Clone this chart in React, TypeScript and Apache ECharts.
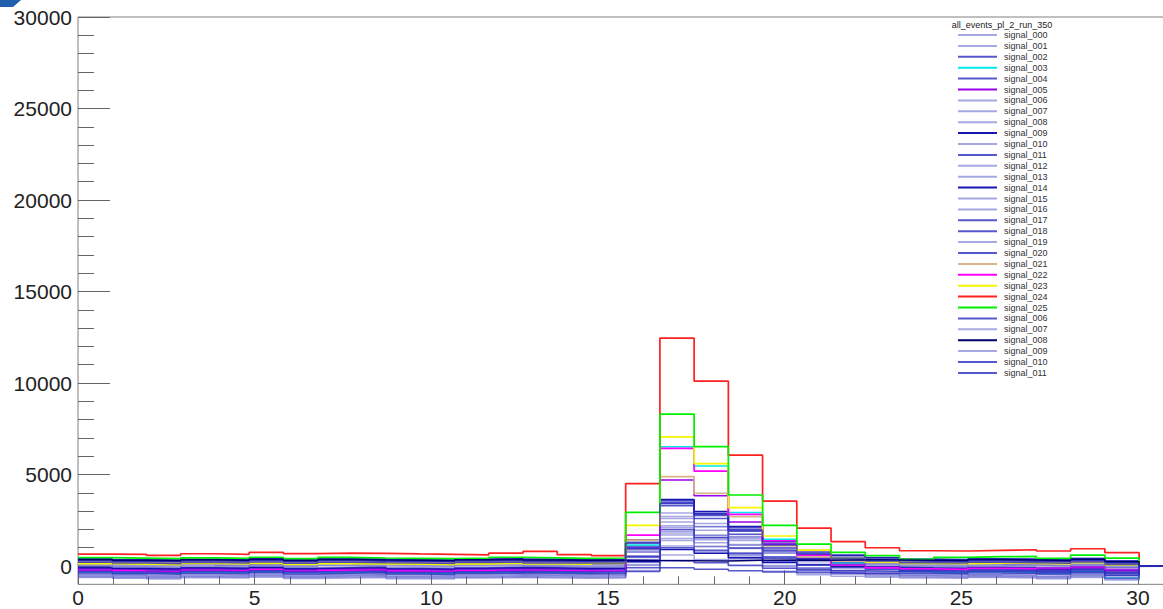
import React, { useEffect, useRef } from "react";
import * as echarts from "echarts";

// ---- histogram binning (32 bins spanning 0..31) ----
const X_MIN = 0;
const X_MAX = 31;
const N_BINS = 32;
const Y_MIN = -1000;
const Y_MAX = 30000;

const legendTitle = "all_events_pl_2_run_350";
const xTickMax = 30;
const yTickMax = 30000;

// ---- series values (one value per bin) ----
const s000 = [-430, -470, -520, -440, -460, -400, -480, -450, -430, -470, -500, -440, -420, -460, -450, -470, 260, 1700, 1270, 720, 190, -130, -300, -380, -460, -430, -480, -440, -470, -420, -520, 0];
const s001 = [120, 80, 60, 130, 90, 110, 70, 140, 100, 80, 60, 120, 150, 90, 110, 90, 770, 2100, 1700, 1180, 710, 390, 230, 160, 110, 80, 130, 90, 60, 120, -20, 0];
const s002 = [-120, -180, -210, -140, -160, -100, -190, -130, -150, -170, -200, -160, -110, -140, -170, -160, 1090, 3600, 2850, 1900, 980, 410, 110, -40, -130, -170, -120, -150, -190, -110, -260, 0];
const s003 = [-330, -380, -400, -340, -360, -300, -370, -350, -320, -390, -410, -360, -330, -350, -380, -320, 1150, 6520, 5460, 2930, 1470, 650, 180, -150, -300, -360, -310, -340, -380, -300, -650, 0];
const s004 = [270, 230, 200, 260, 240, 300, 220, 280, 250, 230, 210, 260, 290, 250, 230, 240, 1300, 3450, 2810, 2010, 1210, 730, 470, 350, 260, 230, 280, 250, 220, 290, 150, 0];
const s005 = [-130, -170, -200, -140, -160, -110, -180, -150, -130, -170, -190, -150, -120, -140, -170, -140, 1000, 4700, 3840, 2400, 1200, 450, 60, -80, -140, -160, -120, -150, -180, -110, -240, 0];
const s006 = [-580, -620, -660, -590, -610, -560, -630, -600, -570, -640, -660, -610, -580, -600, -620, -610, 90, 1500, 1080, 550, 30, -290, -450, -540, -600, -620, -580, -600, -640, -570, -700, 0];
const s007 = [70, 30, 10, 80, 40, 90, 20, 60, 50, 30, 0, 70, 100, 40, 60, 40, 990, 2900, 2330, 1620, 910, 480, 250, 130, 60, 30, 80, 50, 20, 70, -60, 0];
const s008 = [320, 280, 250, 310, 290, 340, 270, 330, 300, 280, 260, 310, 340, 290, 280, 290, 1060, 2600, 2140, 1570, 990, 650, 460, 370, 300, 280, 320, 290, 270, 330, 200, 0];
const s009 = [370, 330, 310, 360, 340, 390, 320, 380, 350, 330, 310, 360, 390, 350, 330, 340, 1430, 3640, 2980, 2160, 1340, 840, 580, 450, 360, 330, 380, 350, 320, 390, 260, 0];
const s010 = [-480, -520, -560, -490, -510, -460, -530, -500, -470, -540, -560, -510, -480, -500, -520, -510, 30, 1100, 780, 380, -20, -260, -390, -450, -500, -520, -480, -500, -540, -470, -620, 0];
const s011 = [-180, -220, -250, -190, -210, -160, -230, -200, -170, -240, -260, -210, -180, -200, -220, -210, 960, 3300, 2600, 1730, 850, 330, 50, -100, -200, -220, -180, -200, -240, -170, -320, 0];
const s012 = [220, 180, 150, 210, 190, 240, 170, 230, 200, 180, 160, 210, 240, 190, 180, 190, 760, 1900, 1560, 1140, 710, 460, 320, 250, 200, 180, 220, 190, 170, 230, 100, 0];
const s013 = [-330, -370, -410, -340, -360, -310, -380, -350, -320, -390, -410, -360, -330, -350, -370, -360, 230, 1400, 1050, 610, 180, -90, -230, -300, -350, -370, -330, -350, -390, -320, -470, 0];
const s014 = [-80, -120, -150, -90, -110, -60, -130, -100, -70, -140, -160, -110, -80, -100, -120, -110, 230, 900, 700, 450, 200, 50, -30, -70, -100, -120, -80, -100, -140, -70, -220, 0];
const s015 = [170, 130, 100, 160, 140, 190, 120, 180, 150, 130, 110, 160, 190, 140, 130, 140, 890, 2400, 1950, 1390, 820, 490, 310, 220, 150, 130, 170, 140, 120, 180, 50, 0];
const s016 = [-530, -570, -610, -540, -560, -510, -580, -550, -520, -590, -610, -560, -530, -550, -570, -560, 360, 2200, 1650, 960, 280, -140, -360, -470, -550, -570, -530, -550, -590, -520, -680, 0];
const s017 = [400, 360, 340, 390, 370, 420, 350, 410, 380, 360, 340, 390, 420, 380, 360, 370, 1410, 3500, 2880, 2100, 1320, 850, 600, 470, 380, 360, 400, 380, 350, 420, 290, 0];
const s018 = [-230, -270, -300, -240, -260, -210, -280, -250, -220, -290, -310, -260, -230, -250, -270, -260, 490, 2000, 1550, 990, 430, 90, -90, -180, -250, -270, -230, -250, -290, -220, -370, 0];
const s019 = [20, -20, -50, 10, -10, 40, -30, 30, 0, -20, -40, 10, 40, -10, -20, -10, 890, 2700, 2160, 1490, 810, 400, 190, 80, 0, -20, 20, 0, -30, 30, -100, 0];
const s020 = [300, 260, 230, 290, 270, 320, 250, 310, 280, 260, 240, 290, 320, 270, 260, 270, 520, 1000, 860, 680, 500, 390, 330, 300, 280, 260, 300, 280, 250, 310, 180, 0];
const s021 = [200, 160, 140, 190, 170, 210, 150, 200, 180, 160, 140, 190, 210, 170, 160, 170, 1420, 4880, 3970, 2700, 1100, 500, 260, 200, 170, 150, 190, 170, 150, 200, 80, 0];
const s022 = [-240, -270, -310, -230, -260, -200, -290, -240, -220, -280, -300, -250, -230, -250, -280, -260, 1690, 6430, 5190, 2820, 1380, 600, 50, -100, -150, -180, -120, -140, -100, -50, -200, 0];
const s023 = [130, 100, 80, 140, 110, 150, 90, 130, 120, 100, 80, 120, 150, 110, 100, 150, 2220, 7060, 5600, 3190, 1640, 870, 400, 220, 150, 130, 160, 140, 120, 180, 60, 0];
const s024 = [655, 640, 585, 670, 640, 750, 680, 710, 690, 660, 640, 610, 700, 800, 620, 565, 4500, 12450, 10100, 6060, 3550, 2070, 1330, 1000, 835, 820, 855, 890, 820, 945, 730, 0];
const s025 = [460, 430, 400, 450, 420, 480, 410, 470, 440, 420, 400, 430, 480, 450, 420, 440, 2930, 8300, 6520, 3880, 2220, 1200, 745, 565, 365, 475, 510, 530, 420, 600, 435, 0];
const s006b = [-280, -320, -350, -290, -310, -260, -330, -300, -270, -340, -360, -310, -280, -300, -320, -310, -100, 300, 180, 30, -120, -210, -260, -290, -300, -320, -280, -300, -340, -270, -420, 0];
const s007b = [-630, -670, -710, -640, -660, -610, -680, -650, -620, -690, -710, -660, -630, -650, -670, -660, -240, 600, 350, 40, -280, -470, -560, -610, -650, -670, -630, -650, -690, -620, -760, 0];
const s008b = [350, 310, 290, 340, 320, 370, 300, 360, 330, 310, 290, 340, 370, 330, 310, 320, 300, 290, 280, 310, 330, 320, 340, 330, 320, 300, 350, 330, 300, 370, 240, 0];
const s009b = [-30, -70, -100, -40, -60, -10, -80, -50, -20, -90, -110, -60, -30, -50, -70, -60, 560, 1800, 1430, 970, 510, 230, 80, 10, -50, -70, -30, -50, -90, -20, -170, 0];
const s010b = [200, 160, 130, 190, 170, 220, 150, 210, 180, 160, 140, 190, 220, 170, 160, 170, 1240, 3400, 2760, 1950, 1150, 660, 400, 280, 180, 160, 200, 180, 150, 220, 90, 0];
const s011b = [-380, -420, -450, -390, -410, -360, -430, -400, -370, -440, -460, -410, -380, -400, -420, -410, -300, -100, -180, -260, -330, -370, -390, -400, -400, -420, -380, -400, -440, -370, -520, 0];

const LIGHT = "rgba(80,80,200,0.5)";
const MID = "rgba(40,40,190,0.78)";
const DARK = "rgba(10,10,170,0.95)";
const NAVY = "rgba(0,0,110,1)";

const seriesNames = [
  "signal_000", "signal_001", "signal_002", "signal_003", "signal_004", "signal_005",
  "signal_006", "signal_007", "signal_008", "signal_009", "signal_010", "signal_011",
  "signal_012", "signal_013", "signal_014", "signal_015", "signal_016", "signal_017",
  "signal_018", "signal_019", "signal_020", "signal_021", "signal_022", "signal_023",
  "signal_024", "signal_025", "signal_006#2", "signal_007#2", "signal_008#2",
  "signal_009#2", "signal_010#2", "signal_011#2",
];
const seriesValues = [
  s000, s001, s002, s003, s004, s005, s006, s007, s008, s009, s010, s011,
  s012, s013, s014, s015, s016, s017, s018, s019, s020, s021, s022, s023,
  s024, s025, s006b, s007b, s008b, s009b, s010b, s011b,
];
const seriesColors = [
  LIGHT, LIGHT, MID, "#00e8e8", MID, "#9a00f0",
  LIGHT, LIGHT, LIGHT, DARK, LIGHT, MID,
  LIGHT, LIGHT, DARK, LIGHT, LIGHT, MID,
  MID, LIGHT, MID, "#d8b48a", "#ff00ff", "#f5f500",
  "#ff2020", "#00f000", MID, LIGHT, NAVY,
  LIGHT, MID, MID,
];

const FONT = "'Liberation Sans', Arial, Helvetica, sans-serif";

export default function App() {
  const ref = useRef<HTMLDivElement>(null);

  useEffect(() => {
    if (!ref.current) return;
    const chart = echarts.init(ref.current, undefined, { renderer: "svg" });
    const binW = (X_MAX - X_MIN) / N_BINS;

    const series = seriesValues.map((vals, si) => {
      const pts: number[][] = vals.map((v, i) => [X_MIN + i * binW, v]);
      pts.push([X_MAX, vals[vals.length - 1]]);
      const strong = si >= 21 && si <= 25;
      return {
        name: seriesNames[si],
        type: "line",
        step: "end",
        xAxisIndex: 0,
        yAxisIndex: 0,
        symbol: "none",
        silent: true,
        color: seriesColors[si],
        lineStyle: { color: seriesColors[si], width: strong ? 1.7 : 1.5 },
        emphasis: { disabled: true },
        data: pts,
      };
    });

    const axisGray = "#808080";

    chart.setOption({
      animation: false,
      grid: [
        { left: 78, top: 17, width: 1095.33, height: 567.33, show: true, borderColor: axisGray, borderWidth: 1, backgroundColor: "transparent" },
        { left: 78, top: 17, width: 1095.33, height: 549 },
        { left: 78, top: 17, width: 1060, height: 567.33 },
      ],
      xAxis: [
        { type: "value", gridIndex: 0, min: X_MIN, max: X_MAX, show: true, axisLine: { show: false }, axisTick: { show: false }, axisLabel: { show: false }, splitLine: { show: false } },
        { type: "value", gridIndex: 1, min: 0, max: 1, show: false },
        {
          type: "value", gridIndex: 2, min: 0, max: xTickMax, interval: 5,
          axisLine: { show: false },
          axisTick: { show: true, inside: true, length: 14, lineStyle: { color: "#666", width: 1 } },
          minorTick: { show: true, splitNumber: 5, length: 8, lineStyle: { color: "#666", width: 1 } },
          axisLabel: { show: true, fontSize: 21, color: "#222", fontFamily: FONT, margin: 3, formatter: (v: number) => String(v) },
          splitLine: { show: false },
        },
      ],
      yAxis: [
        { type: "value", gridIndex: 0, min: Y_MIN, max: Y_MAX, show: true, axisLine: { show: false }, axisTick: { show: false }, axisLabel: { show: false }, splitLine: { show: false } },
        {
          type: "value", gridIndex: 1, min: 0, max: yTickMax, interval: 5000,
          axisLine: { show: false },
          axisTick: { show: true, inside: true, length: 32, lineStyle: { color: "#666", width: 1 } },
          minorTick: { show: true, splitNumber: 5, length: 16, lineStyle: { color: "#666", width: 1 } },
          axisLabel: { show: true, fontSize: 21, color: "#222", fontFamily: FONT, margin: 6, formatter: (v: number) => String(v) },
          splitLine: { show: false },
        },
        { type: "value", gridIndex: 2, min: 0, max: 1, show: false },
      ],
      legend: {
        orient: "vertical",
        left: 957,
        top: 30.5,
        padding: 0,
        itemWidth: 39,
        itemHeight: 9,
        itemGap: 1.9,
        selectedMode: false,
        data: seriesNames,
        itemStyle: { opacity: 0 },
        formatter: (name: string) => name.replace(/#.*$/, ""),
        textStyle: { fontSize: 9, lineHeight: 9, color: "#333", fontFamily: FONT, padding: [0, 0, 0, 2] },
      },
      graphic: [
        {
          type: "text",
          x: 1002,
          y: 24.5,
          style: { text: legendTitle, fontSize: 9, fill: "#222", fontFamily: FONT, textAlign: "center", textVerticalAlign: "middle" },
        },
        {
          type: "polygon",
          shape: { points: [[0, 0], [21, 0], [13, 7], [0, 7]] },
          style: { fill: "#1f5fae" },
        },
      ],
      series,
    });

    return () => chart.dispose();
  }, []);

  return (
    <div style={{ position: "fixed", left: 0, top: 0, width: 1163, height: 609, overflow: "hidden", background: "#fff" }}>
      <div ref={ref} style={{ width: 1185, height: 609 }} />
    </div>
  );
}
